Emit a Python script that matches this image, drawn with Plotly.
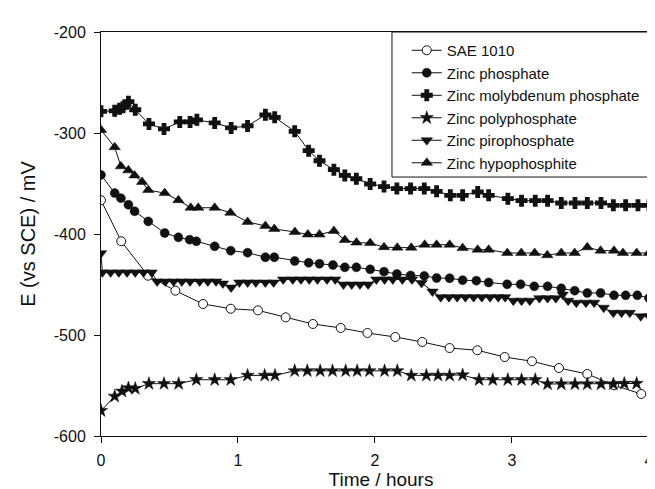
import plotly.graph_objects as go

# ---------------- data ----------------
sae_t = [0, 0.148, 0.343, 0.543, 0.745, 0.947, 1.146, 1.348, 1.547, 1.75, 1.945,
         2.148, 2.345, 2.545, 2.747, 2.947, 3.146, 3.343, 3.55, 3.745, 3.944]
sae_e = [-366.6, -407.2, -441.3, -456.1, -469.3, -474, -475.6, -482.5, -489.1, -493, -498,
         -502, -506.9, -512.9, -515.1, -521.8, -526, -532.7, -538.6, -549.8, -558.4]

zp_t = [0.0, 0.10, 0.145, 0.20, 0.245, 0.345, 0.465, 0.565, 0.647, 0.696, 0.83, 0.947,
        1.07, 1.20, 1.265, 1.414, 1.516, 1.595, 1.693, 1.78, 1.864, 1.965, 2.066, 2.16,
        2.26, 2.36, 2.45, 2.545, 2.64, 2.74, 2.83, 2.965, 3.063, 3.163, 3.26, 3.36, 3.458,
        3.55, 3.647, 3.745, 3.83, 3.915, 4.0]
zp_e = [-341.5, -359.5, -364.5, -371, -377.5, -387.5, -399, -403.3, -405.6, -407.2, -412.2, -416.5,
        -418.5, -423, -423, -426.7, -428.5, -429.5, -430.7, -433, -433, -435, -437.3, -439.6,
        -441, -441.5, -443.6, -443.8, -445.7, -446.2, -448, -449.8, -449.8, -451.8, -451.8, -453.8, -456.1,
        -458.4, -458.4, -460.7, -460.7, -460.7, -463.4]

zmp_t = [0.0, 0.10, 0.136, 0.16, 0.20, 0.25, 0.35, 0.46, 0.575, 0.65, 0.70, 0.83, 0.95,
         1.07, 1.20, 1.268, 1.414, 1.516, 1.595, 1.70, 1.78, 1.864, 1.965, 2.066, 2.16,
         2.26, 2.36, 2.45, 2.55, 2.64, 2.75, 2.83, 2.97, 3.07, 3.17, 3.26, 3.36, 3.46,
         3.55, 3.65, 3.74, 3.83, 3.92, 4.00]
zmp_e = [-278.5, -278, -276, -274.5, -269, -277, -291, -296, -289, -289, -287, -290, -295,
         -293, -282, -284.5, -298.3, -317.5, -327.5, -336.3, -342, -345.3, -350.5, -353, -355,
         -355, -355, -357.7, -361.7, -361.7, -358.4, -361.7, -365, -367, -367, -367, -369.3, -369.3,
         -369.3, -369.3, -371.6, -371.6, -371.6, -371.6]

zpoly_t = [0, 0.10, 0.153, 0.20, 0.25, 0.35, 0.46, 0.567, 0.696, 0.83, 0.947, 1.07, 1.195,
           1.27, 1.414, 1.506, 1.60, 1.69, 1.786, 1.87, 1.96, 2.07, 2.163, 2.265, 2.375,
           2.46, 2.545, 2.64, 2.76, 2.86, 2.97, 3.07, 3.17, 3.26, 3.36, 3.46, 3.55, 3.65,
           3.74, 3.82, 3.91]
zpoly_e = [-575, -560.7, -555.7, -552.5, -553, -548.2, -548.2, -548.2, -544.3, -544.3, -544.3, -540, -540,
           -540, -535.5, -535.5, -535.5, -535.5, -535.5, -535.5, -535.5, -535.5, -535.5, -540, -540,
           -540, -540, -539.6, -544.3, -544.3, -544.3, -544.3, -544.3, -548.5, -548.5, -548.5, -548.5, -548.5,
           -548.5, -548, -548]

zpiro_t = [0.0, 0.01, 0.07, 0.13, 0.19, 0.25, 0.31, 0.37, 0.41, 0.47, 0.53, 0.59, 0.65,
           0.72, 0.78, 0.84, 0.89, 0.95, 1.01, 1.07, 1.13, 1.20, 1.26, 1.33, 1.40, 1.46,
           1.52, 1.58, 1.65, 1.71, 1.77, 1.83, 1.89, 1.95, 2.01, 2.07, 2.13, 2.20, 2.27,
           2.34, 2.42, 2.48, 2.54, 2.60, 2.66, 2.72, 2.78, 2.84, 2.90, 2.95, 3.01, 3.07,
           3.13, 3.20, 3.26, 3.32, 3.37, 3.41, 3.47, 3.54, 3.60, 3.67, 3.74, 3.80, 3.86,
           3.94, 4.00]
zpiro_e = [-419, -438, -438, -438, -438, -438, -438, -438, -447, -447, -447, -447, -447,
           -447, -447, -447, -449, -453, -448, -448, -448, -448, -448, -445, -445, -445,
           -445, -445, -445, -445, -450, -450, -450, -450, -445, -445, -445, -445, -445,
           -448.5, -457, -462.5, -462.5, -462.5, -462.5, -462.5, -462.5, -462.5, -462.5, -462.5, -466, -466,
           -466, -463.5, -463.5, -463.5, -460, -466, -468, -468, -468, -473, -478, -478, -478,
           -481.5, -481.5]

zhyp_t = [0.0, 0.10, 0.145, 0.20, 0.245, 0.30, 0.345, 0.465, 0.565, 0.655, 0.71, 0.83,
          0.945, 1.07, 1.20, 1.265, 1.415, 1.51, 1.595, 1.70, 1.78, 1.865, 1.965, 2.066,
          2.163, 2.265, 2.363, 2.45, 2.545, 2.64, 2.75, 2.83, 2.966, 3.068, 3.166, 3.258,
          3.36, 3.458, 3.55, 3.647, 3.745, 3.81, 3.91, 4.0]
zhyp_e = [-297, -314, -333, -337, -342, -348.5, -356.5, -359.5, -366.5, -374, -374, -374,
          -379, -388, -392, -395, -398, -400.5, -400.5, -397, -406, -408.5, -409, -413,
          -413.5, -413.5, -410.6, -410.6, -410.6, -413.9, -415.5, -415.5, -418.8, -418.8, -418.8, -421,
          -418.8, -418.8, -413.2, -416.5, -416.5, -418.8, -418.8, -418.8]

series_names = ["SAE 1010", "Zinc phosphate", "Zinc molybdenum phosphate",
                "Zinc polyphosphate", "Zinc pirophosphate", "Zinc hypophosphite"]

y_tickvals = [-600, -500, -400, -300, -200]
y_ticktext = ["-600", "-500", "-400", "-300", "-200"]
x_tickvals = [0, 1, 2, 3, 4]
x_ticktext = ["0", "1", "2", "3", "4"]

# ---------------- figure ----------------
FONT = "Liberation Sans, Arial, sans-serif"
INK = "#111111"
series = [
    (sae_t, sae_e, dict(symbol="circle", size=9, color="white", line=dict(color=INK, width=1))),
    (zp_t, zp_e, dict(symbol="circle", size=9, color=INK, line=dict(color=INK, width=0.5))),
    (zmp_t, zmp_e, dict(symbol="cross", size=9, color=INK, line=dict(color=INK, width=1.2))),
    (zpoly_t, zpoly_e, dict(symbol="star", size=10, color=INK, line=dict(color=INK, width=0.5))),
    (zpiro_t, zpiro_e, dict(symbol="triangle-down", size=10, color=INK, line=dict(color=INK, width=0.5))),
    (zhyp_t, zhyp_e, dict(symbol="triangle-up", size=10, color=INK, line=dict(color=INK, width=0.5))),
]

fig = go.Figure()
for name, (t, e, mk) in zip(series_names, series):
    fig.add_trace(go.Scatter(x=t, y=e, mode="lines+markers", name=name,
                             line=dict(color=INK, width=1), marker=mk))

# legend frame (drawn as a paper-space rectangle so it spans to the plot's right border)
fig.add_shape(type="rect", xref="paper", yref="paper", x0=0.5196, x1=1.0, y0=0.641, y1=1.0,
              line=dict(color=INK, width=1), fillcolor="white", layer="below")

fig.update_layout(
    width=655, height=489,
    margin=dict(l=93, r=2, t=24, b=61),
    paper_bgcolor="white", plot_bgcolor="white",
    font=dict(family=FONT, size=16, color=INK),
    showlegend=True,
    legend=dict(x=0.546, y=0.995, xanchor="left", yanchor="top",
                bgcolor="rgba(0,0,0,0)", borderwidth=0,
                font=dict(family=FONT, size=15, color=INK),
                tracegroupgap=0),
)
fig.update_xaxes(range=[0, 4.088], tickmode="array", tickvals=x_tickvals, ticktext=x_ticktext,
                 ticks="outside", ticklen=6, tickcolor=INK, ticklabelstandoff=4,
                 showline=True, linecolor=INK,
                 linewidth=1, mirror=True, showgrid=False, zeroline=False,
                 title=dict(text="Time / hours", font=dict(size=19), standoff=2))
fig.update_yaxes(range=[-600, -200], tickmode="array", tickvals=y_tickvals, ticktext=y_ticktext,
                 ticks="outside", ticklen=6, tickcolor=INK, ticklabelstandoff=5,
                 showline=True, linecolor=INK,
                 linewidth=1, mirror=True, showgrid=False, zeroline=False,
                 title=dict(text="E (vs SCE) / mV", font=dict(size=20), standoff=12))

fig.write_html("out.html")
